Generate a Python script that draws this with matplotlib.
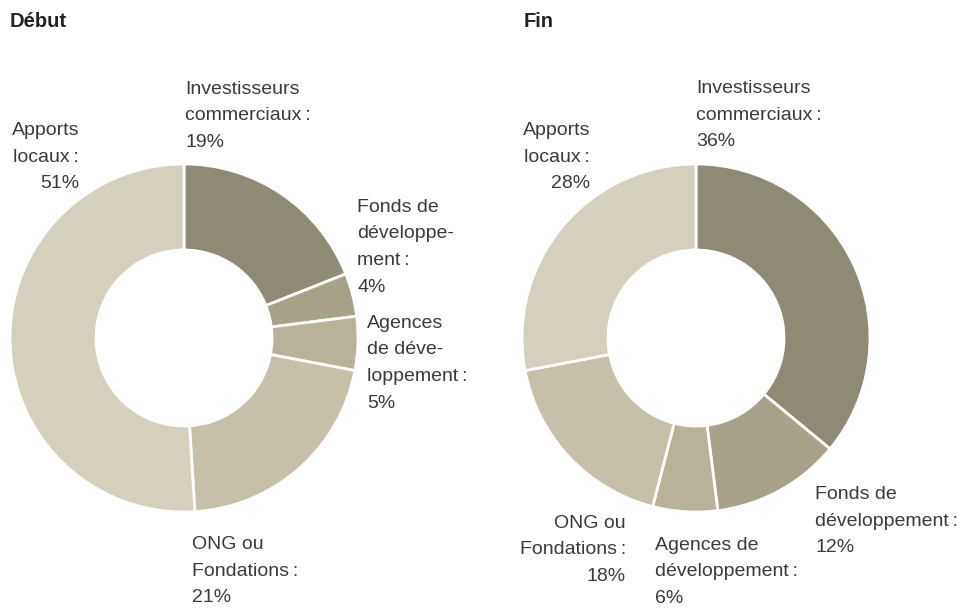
import matplotlib
matplotlib.use("Agg")
import matplotlib.pyplot as plt

plt.rcParams['font.family'] = ['Liberation Sans', 'DejaVu Sans']

# Data: share of funding by source, at the start and at the end
sources = ["Investisseurs commerciaux", "Fonds de développement",
           "Agences de développement", "ONG ou Fondations", "Apports locaux"]
debut_values = [19, 4, 5, 21, 51]
fin_values = [36, 12, 6, 18, 28]

colors = ["#8f8a75", "#a7a18a", "#b8b29a", "#c6c0aa", "#d5d0be"]

# label text as printed (line breaks differ between the two charts)
debut_labels = [
    "Investisseurs\ncommerciaux\u2009:\n19%",
    "Fonds de\ndéveloppe-\nment\u2009:\n4%",
    "Agences\nde déve-\nloppement\u2009:\n5%",
    "ONG ou\nFondations\u2009:\n21%",
    "Apports\nlocaux\u2009:\n51%",
]
fin_labels = [
    "Investisseurs\ncommerciaux\u2009:\n36%",
    "Fonds de\ndéveloppement\u2009:\n12%",
    "Agences de\ndéveloppement\u2009:\n6%",
    "ONG ou\nFondations\u2009:\n18%",
    "Apports\nlocaux\u2009:\n28%",
]

W, H = 972, 608
fig = plt.figure(figsize=(W / 100, H / 100), dpi=100)
ax = fig.add_axes([0, 0, 1, 1])

R = 174
ring = 86
line_step = 26.5
txt_color = "#3a3a3a"


def label(x, y_top, text, ha):
    # y_top = baseline of first line, measured from the top in pixels
    for i, line in enumerate(text.split("\n")):
        ax.text(x, H - (y_top + i * line_step), line, ha=ha, va="baseline",
                fontsize=14, color=txt_color)


def donut(cx, cy, values, labels, spots, title, title_x):
    ax.pie(values, colors=colors, startangle=90, counterclock=False,
           radius=R, center=(cx, H - cy),
           wedgeprops=dict(width=ring, edgecolor="white", linewidth=2))
    for text, (x, y, ha) in zip(labels, spots):
        label(x, y, text, ha)
    ax.text(title_x, H - 27, title, ha="left", va="baseline",
            fontsize=14.5, fontweight="bold", color="#222222")


donut(184, 338, debut_values, debut_labels,
      [(185, 94, "left"), (357, 212, "left"), (367, 328, "left"),
       (192, 549, "left"), (79, 135, "right")],
      "Début", 10)
donut(696, 338, fin_values, fin_labels,
      [(696, 93, "left"), (815, 499, "left"), (655, 550, "left"),
       (626, 528, "right"), (590, 135, "right")],
      "Fin", 524)

ax.set_xlim(0, W)
ax.set_ylim(0, H)
ax.set_aspect("auto")
ax.axis("off")

fig.savefig("out.png", dpi=100, facecolor="white")
